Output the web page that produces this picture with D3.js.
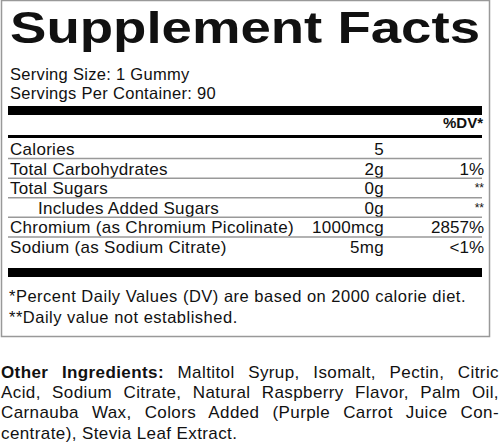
<!DOCTYPE html>
<html lang="en">
<head>
<meta charset="utf-8">
<script src="https://d3js.org/d3.v7.min.js"></script>
<style>
  body { margin: 0; background: #fff; }
  text { font-family: 'Liberation Sans', Arial, sans-serif; fill: #111; }
</style>
</head>
<body>
<script>
// label data
var nutrients = ["Calories", "Total Carbohydrates", "Total Sugars", "Includes Added Sugars",
                 "Chromium (as Chromium Picolinate)", "Sodium (as Sodium Citrate)"];
var amounts = ["5", "2g", "0g", "0g", "1000mcg", "5mg"];
var dvs = ["", "1%", "**", "**", "2857%", "<1%"];
var indented = [false, false, false, true, false, false];
var footnotes = ["*Percent Daily Values (DV) are based on 2000 calorie diet.",
                 "**Daily value not established."];
var ingredientLines = [
  ["Other Ingredients:", " Maltitol Syrup, Isomalt, Pectin, Citric"],
  ["", "Acid, Sodium Citrate, Natural Raspberry Flavor, Palm Oil,"],
  ["", "Carnauba Wax, Colors Added (Purple Carrot Juice Con-"],
  ["", "centrate), Stevia Leaf Extract."]
];

var w = 500, h = 446;
var svg = d3.select("body").append("svg").attr("width", w).attr("height", h);

// outer box
svg.append("rect").attr("x", 1.5).attr("y", 0.5).attr("width", 488).attr("height", 336)
  .attr("fill", "none").attr("stroke", "#999").attr("stroke-width", 1.5);

svg.append("text").attr("x", 10).attr("y", 43).attr("font-size", 44).attr("font-weight", "bold")
  .attr("textLength", 470).attr("lengthAdjust", "spacingAndGlyphs").text("Supplement Facts");

svg.append("text").attr("x", 10).attr("y", 80).attr("font-size", 16.5).attr("letter-spacing", 0.3).text("Serving Size: 1 Gummy");
svg.append("text").attr("x", 10).attr("y", 99).attr("font-size", 16.5).attr("letter-spacing", 0.3).text("Servings Per Container: 90");

svg.append("rect").attr("x", 8).attr("y", 106).attr("width", 474).attr("height", 9).attr("fill", "#000");
svg.append("text").attr("x", 483).attr("y", 128).attr("font-size", 15).attr("font-weight", "bold")
  .attr("text-anchor", "end").text("%DV*");
svg.append("rect").attr("x", 8).attr("y", 135).attr("width", 474).attr("height", 3).attr("fill", "#000");

var y = d3.scaleBand().domain(d3.range(nutrients.length)).range([139, 256.5]);

var rows = svg.selectAll("g.row").data(nutrients).enter().append("g").attr("class", "row");
rows.append("text").attr("x", function(d, i) { return indented[i] ? 38 : 10; })
  .attr("y", function(d, i) { return y(i) + 16; }).attr("font-size", 17).attr("letter-spacing", 0.3)
  .text(function(d) { return d; });
rows.append("text").attr("x", 384).attr("text-anchor", "end")
  .attr("y", function(d, i) { return y(i) + 16; }).attr("font-size", 17).attr("letter-spacing", 0.3)
  .text(function(d, i) { return amounts[i]; });
rows.append("text").attr("x", 484).attr("text-anchor", "end")
  .attr("y", function(d, i) { return y(i) + (dvs[i] === "**" ? 14 : 16); })
  .attr("font-size", function(d, i) { return dvs[i] === "**" ? 12 : 17; })
  .attr("fill", function(d, i) { return dvs[i] === "**" ? "#666" : "#111"; })
  .text(function(d, i) { return dvs[i]; });
rows.filter(function(d, i) { return i < nutrients.length - 1; })
  .append("line").attr("x1", 8).attr("x2", 482)
  .attr("y1", function(d, i) { return y(i) + y.bandwidth(); })
  .attr("y2", function(d, i) { return y(i) + y.bandwidth(); })
  .attr("stroke", "#999").attr("stroke-width", 1.5);

svg.append("rect").attr("x", 8).attr("y", 268).attr("width", 474).attr("height", 9).attr("fill", "#000");

svg.selectAll("text.foot").data(footnotes).enter().append("text").attr("class", "foot")
  .attr("x", 9).attr("y", function(d, i) { return 302 + i * 21; }).attr("font-size", 16.5)
  .attr("letter-spacing", 0.5).text(function(d) { return d; });

// justified ingredients
ingredientLines.forEach(function(line, i) {
  var last = i === ingredientLines.length - 1;
  var t = svg.append("text").attr("x", 1).attr("y", 378 + i * 20.2).attr("font-size", 17)
    .attr("letter-spacing", 0.4);
  if (line[0]) t.append("tspan").attr("font-weight", "bold").text(line[0]);
  t.append("tspan").text(line[1]);
  if (!last) {
    var len = t.node().getComputedTextLength();
    var words = (line[0] + line[1]).split(" ").length - 1;
    t.attr("word-spacing", (499 - 1 - len) / words);
  }
});
</script>
</body>
</html>
